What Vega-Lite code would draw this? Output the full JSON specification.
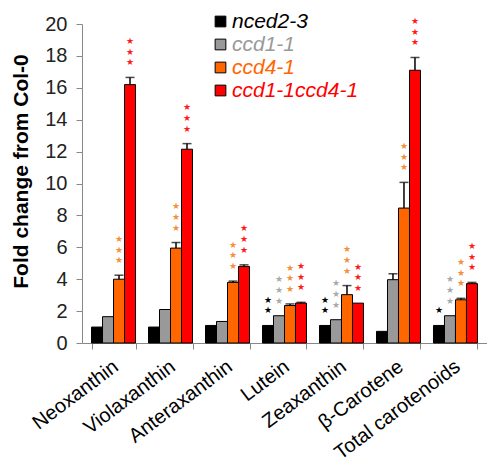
{
  "$schema": "https://vega.github.io/schema/vega-lite/v6.json",
  "autosize": {"type": "none"},
  "padding": {"left": 82, "top": 24, "right": 0, "bottom": 125},
  "width": 405,
  "height": 319,
  "config": {
    "view": {"stroke": null},
    "font": "Liberation Sans",
    "axisY": {
      "labelFlush": false,
      "labelFontSize": 20,
      "labelColor": "#222222",
      "labelPadding": 9,
      "domainColor": "#888888",
      "tickColor": "#888888",
      "tickSize": 6,
      "grid": false
    }
  },
  "data": {
    "values": [
      {"category": "Neoxanthin", "series": "nced2-3", "value": 1.0, "hi": 1.0, "stars": 0},
      {"category": "Neoxanthin", "series": "ccd1-1", "value": 1.65, "hi": 1.65, "stars": 0},
      {"category": "Neoxanthin", "series": "ccd4-1", "value": 4.0, "hi": 4.25, "stars": 3},
      {"category": "Neoxanthin", "series": "ccd1-1ccd4-1", "value": 16.2, "hi": 16.65, "stars": 3},
      {"category": "Violaxanthin", "series": "nced2-3", "value": 1.0, "hi": 1.0, "stars": 0},
      {"category": "Violaxanthin", "series": "ccd1-1", "value": 2.1, "hi": 2.1, "stars": 0},
      {"category": "Violaxanthin", "series": "ccd4-1", "value": 5.95, "hi": 6.3, "stars": 3},
      {"category": "Violaxanthin", "series": "ccd1-1ccd4-1", "value": 12.15, "hi": 12.5, "stars": 3},
      {"category": "Anteraxanthin", "series": "nced2-3", "value": 1.1, "hi": 1.1, "stars": 0},
      {"category": "Anteraxanthin", "series": "ccd1-1", "value": 1.35, "hi": 1.35, "stars": 0},
      {"category": "Anteraxanthin", "series": "ccd4-1", "value": 3.8, "hi": 3.88, "stars": 3},
      {"category": "Anteraxanthin", "series": "ccd1-1ccd4-1", "value": 4.8, "hi": 4.9, "stars": 3},
      {"category": "Lutein", "series": "nced2-3", "value": 1.1, "hi": 1.1, "stars": 2},
      {"category": "Lutein", "series": "ccd1-1", "value": 1.71, "hi": 1.71, "stars": 3},
      {"category": "Lutein", "series": "ccd4-1", "value": 2.35, "hi": 2.45, "stars": 3},
      {"category": "Lutein", "series": "ccd1-1ccd4-1", "value": 2.5, "hi": 2.55, "stars": 3},
      {"category": "Zeaxanthin", "series": "nced2-3", "value": 1.1, "hi": 1.1, "stars": 2},
      {"category": "Zeaxanthin", "series": "ccd1-1", "value": 1.46, "hi": 1.46, "stars": 3},
      {"category": "Zeaxanthin", "series": "ccd4-1", "value": 3.03, "hi": 3.6, "stars": 3},
      {"category": "Zeaxanthin", "series": "ccd1-1ccd4-1", "value": 2.5, "hi": 2.5, "stars": 3},
      {"category": "β-Carotene", "series": "nced2-3", "value": 0.73, "hi": 0.73, "stars": 0},
      {"category": "β-Carotene", "series": "ccd1-1", "value": 3.97, "hi": 4.34, "stars": 0},
      {"category": "β-Carotene", "series": "ccd4-1", "value": 8.46, "hi": 10.07, "stars": 3},
      {"category": "β-Carotene", "series": "ccd1-1ccd4-1", "value": 17.1, "hi": 17.9, "stars": 3},
      {"category": "Total carotenoids", "series": "nced2-3", "value": 1.1, "hi": 1.1, "stars": 1},
      {"category": "Total carotenoids", "series": "ccd1-1", "value": 1.71, "hi": 1.71, "stars": 3},
      {"category": "Total carotenoids", "series": "ccd4-1", "value": 2.71, "hi": 2.8, "stars": 3},
      {"category": "Total carotenoids", "series": "ccd1-1ccd4-1", "value": 3.72, "hi": 3.8, "stars": 3}
    ]
  },
  "encoding": {
    "x": {
      "field": "category",
      "type": "nominal",
      "sort": null,
      "scale": {"paddingInner": 0.228, "paddingOuter": 0.167},
      "axis": {
        "title": null,
        "labelAngle": -37,
        "labelFontSize": 20,
        "labelColor": "#000000",
        "domainColor": "#888888",
        "tickColor": "#888888",
        "tickSize": 6,
        "tickBand": "extent",
        "labelPadding": 7,
        "labelOffset": -4
      }
    },
    "xOffset": {
      "field": "series",
      "type": "nominal",
      "sort": ["nced2-3", "ccd1-1", "ccd4-1", "ccd1-1ccd4-1"],
      "scale": {"paddingInner": 0, "paddingOuter": 0}
    },
    "y": {
      "field": "value",
      "type": "quantitative",
      "scale": {"domain": [0, 20], "nice": false},
      "axis": {
        "title": "Fold change from Col-0",
        "titleFontSize": 21,
        "titleFontWeight": "bold",
        "titleColor": "#000000",
        "titleBaseline": "alphabetic",
        "titleAlign": "center",
        "titleAngle": 270,
        "titleX": -55,
        "titleY": 147,
        "values": [0, 2, 4, 6, 8, 10, 12, 14, 16, 18, 20],
        "labelOverlap": false,
        "labelSeparation": -12
      }
    }
  },
  "layer": [
    {
      "mark": {"type": "bar", "stroke": "#000000", "strokeWidth": 1},
      "encoding": {
        "fill": {
          "field": "series",
          "type": "nominal",
          "sort": ["nced2-3", "ccd1-1", "ccd4-1", "ccd1-1ccd4-1"],
          "scale": {
            "domain": ["nced2-3", "ccd1-1", "ccd4-1", "ccd1-1ccd4-1"],
            "range": ["#000000", "#999999", "#ff6600", "#ff0000"]
          },
          "legend": {
            "title": null,
            "orient": "none",
            "legendX": 128,
            "legendY": -13,
            "symbolType": "square",
            "symbolSize": 115,
            "symbolStrokeColor": "#000000",
            "symbolStrokeWidth": 1,
            "labelFontSize": 21,
            "labelFontStyle": "italic",
            "labelOffset": 1,
            "rowPadding": 1,
            "encode": {
              "labels": {"update": {"fill": {"scale": "fill", "field": "value"}}}
            }
          }
        }
      }
    },
    {
      "mark": {"type": "rule", "color": "#000000", "strokeWidth": 1.5},
      "transform": [{"filter": "datum.hi > datum.value"}],
      "encoding": {
        "y2": {"field": "hi"}
      }
    },
    {
      "mark": {"type": "tick", "color": "#000000", "thickness": 1.5, "size": 9, "yOffset": 0},
      "transform": [{"filter": "datum.hi > datum.value"}],
      "encoding": {
        "y": {"field": "hi", "type": "quantitative", "axis": {
          "title": "Fold change from Col-0",
          "titleFontSize": 21,
          "titleFontWeight": "bold",
          "titleColor": "#000000",
          "titleBaseline": "alphabetic",
          "titleAlign": "center",
          "titleAngle": 270,
          "titleX": -55,
          "titleY": 147,
          "values": [0, 2, 4, 6, 8, 10, 12, 14, 16, 18, 20],
          "labelOverlap": false,
          "labelSeparation": -12
        }}
      }
    },
    {
      "transform": [{"filter": "datum.stars >= 1"}],
      "mark": {"type": "text", "text": "★", "fontSize": 9, "baseline": "middle", "dy": -15, "font": "DejaVu Sans"},
      "encoding": {
        "y": {"field": "hi", "type": "quantitative", "axis": {
          "title": "Fold change from Col-0",
          "titleFontSize": 21,
          "titleFontWeight": "bold",
          "titleColor": "#000000",
          "titleBaseline": "alphabetic",
          "titleAlign": "center",
          "titleAngle": 270,
          "titleX": -55,
          "titleY": 147,
          "values": [0, 2, 4, 6, 8, 10, 12, 14, 16, 18, 20],
          "labelOverlap": false,
          "labelSeparation": -12
        }},
        "color": {
          "field": "series",
          "type": "nominal",
          "scale": {
            "domain": ["nced2-3", "ccd1-1", "ccd4-1", "ccd1-1ccd4-1"],
            "range": ["#000000", "#aaaaaa", "#f5903a", "#ff1a1a"]
          },
          "legend": null
        }
      }
    },
    {
      "transform": [{"filter": "datum.stars >= 2"}],
      "mark": {"type": "text", "text": "★", "fontSize": 9, "baseline": "middle", "dy": -25.7, "font": "DejaVu Sans"},
      "encoding": {
        "y": {"field": "hi", "type": "quantitative", "axis": {
          "title": "Fold change from Col-0",
          "titleFontSize": 21,
          "titleFontWeight": "bold",
          "titleColor": "#000000",
          "titleBaseline": "alphabetic",
          "titleAlign": "center",
          "titleAngle": 270,
          "titleX": -55,
          "titleY": 147,
          "values": [0, 2, 4, 6, 8, 10, 12, 14, 16, 18, 20],
          "labelOverlap": false,
          "labelSeparation": -12
        }},
        "color": {"field": "series", "type": "nominal", "legend": null}
      }
    },
    {
      "transform": [{"filter": "datum.stars >= 3"}],
      "mark": {"type": "text", "text": "★", "fontSize": 9, "baseline": "middle", "dy": -36.4, "font": "DejaVu Sans"},
      "encoding": {
        "y": {"field": "hi", "type": "quantitative", "axis": {
          "title": "Fold change from Col-0",
          "titleFontSize": 21,
          "titleFontWeight": "bold",
          "titleColor": "#000000",
          "titleBaseline": "alphabetic",
          "titleAlign": "center",
          "titleAngle": 270,
          "titleX": -55,
          "titleY": 147,
          "values": [0, 2, 4, 6, 8, 10, 12, 14, 16, 18, 20],
          "labelOverlap": false,
          "labelSeparation": -12
        }},
        "color": {"field": "series", "type": "nominal", "legend": null}
      }
    }
  ]
}
